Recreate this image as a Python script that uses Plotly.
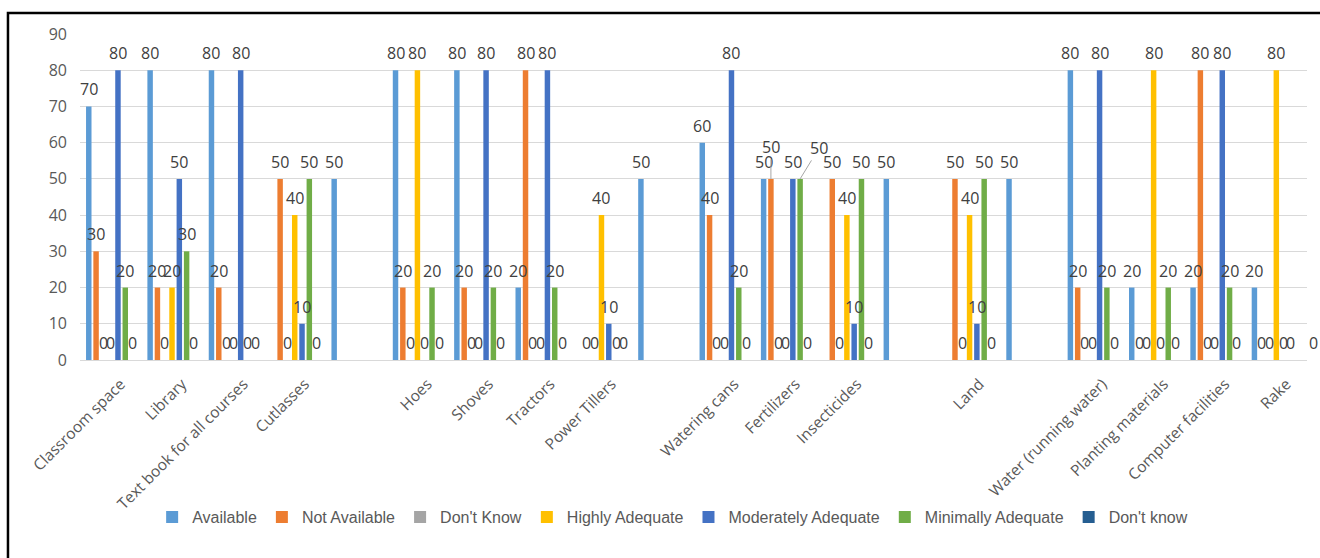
import plotly.graph_objects as go

# Resource categories (blank entries are unlabeled slots on the axis)
categories = [
    "Classroom space", "Library", "Text book for all courses", "Cutlasses", "",
    "Hoes", "Shoves", "Tractors", "Power Tillers", "",
    "Watering cans", "Fertilizers", "Insecticides", "",
    "Land", "",
    "Water (running water)", "Planting materials", "Computer facilities", "Rake",
]

available          = [70, 80, 80, None, 50, 80, 80, 20, None, 50, 60, 50, None, 50, None, 50, 80, 20, 20, 20]
not_available      = [30, 20, 20, 50, None, 20, 20, 80, 0, None, 40, 50, 50, None, 50, None, 20, 0, 80, 0]
dont_know_a        = [0, 0, 0, 0, None, 0, 0, 0, 0, None, 0, 0, 0, None, 0, None, 0, 0, 0, 0]
highly_adequate    = [0, 20, 0, 40, None, 80, 0, 0, 40, None, 0, 0, 40, None, 40, None, 0, 80, 0, 80]
moderately_adequate = [80, 50, 80, 10, None, 0, 80, 80, 10, None, 80, 50, 10, None, 10, None, 80, 0, 80, 0]
minimally_adequate = [20, 30, 0, 50, None, 20, 20, 20, 0, None, 20, 50, 50, None, 50, None, 20, 20, 20, 0]
dont_know_b        = [0, 0, 0, 0, None, 0, 0, 0, 0, None, 0, 0, 0, None, 0, None, 0, 0, 0, 0]

series = [
    ("Available", available, "#5B9BD5"),
    ("Not Available", not_available, "#ED7D31"),
    ("Don't Know", dont_know_a, "#A5A5A5"),
    ("Highly Adequate", highly_adequate, "#FFC000"),
    ("Moderately Adequate", moderately_adequate, "#4472C4"),
    ("Minimally Adequate", minimally_adequate, "#70AD47"),
    ("Don't know", dont_know_b, "#255E91"),
]

# data labels pulled away from their bars: (series index, category index) -> (dx px, dy px, leader line)
moved_labels = {(1, 11): (0, -32, True), (5, 11): (19, -31, True), (6, 19): (15, 0, False)}

BARGAP = 0.167
GROUPGAP = 0.25
LABEL_LIFT = 17  # px from bar top to label centre
LABEL_FONT = dict(family="Open Sans, Segoe UI, sans-serif", size=16, color="#404040")

x_idx = list(range(len(categories)))
fig = go.Figure()
for name, vals, color in series:
    fig.add_trace(go.Bar(
        name=name, x=x_idx, y=vals, marker_color=color, marker_line_width=0,
        hoverinfo="skip",
    ))

# value labels, centred over each bar's slot inside its category group
n = len(series)
slot = (1 - BARGAP) / n
for s, (name, vals, color) in enumerate(series):
    for c, val in enumerate(vals):
        if val is None:
            continue
        xpos = c - (1 - BARGAP) / 2 + (s + 0.5) * slot
        dx, dy, leader = moved_labels.get((s, c), (0, 0, False))
        if leader:
            fig.add_annotation(x=xpos, y=val, text=str(val), showarrow=True, ax=dx, ay=dy,
                               arrowhead=0, arrowwidth=1, arrowcolor="#A6A6A6",
                               font=LABEL_FONT, standoff=0)
        else:
            fig.add_annotation(x=xpos, y=val, text=str(val), showarrow=False,
                               xshift=dx, yshift=LABEL_LIFT, font=LABEL_FONT)

# outer chart frame
fig.add_shape(type="rect", xref="paper", yref="paper",
              x0=-0.0587, x1=1.02, y0=-0.62, y1=1.0644,
              line=dict(color="black", width=2.5), fillcolor="rgba(0,0,0,0)", layer="above")

fig.update_layout(
    width=1320, height=558,
    margin=dict(l=80, r=13, t=34, b=198),
    paper_bgcolor="white", plot_bgcolor="white",
    barmode="group", bargap=BARGAP, bargroupgap=GROUPGAP,
    showlegend=True,
    legend=dict(orientation="h", x=0.483, xanchor="center", y=-0.482, yanchor="middle",
                font=dict(family="Liberation Sans Narrow, Liberation Sans, sans-serif", size=16, color="#595959"),
                itemwidth=30, traceorder="normal"),
    font=dict(family="Open Sans, sans-serif", color="#595959"),
)
fig.update_yaxes(range=[0, 90], dtick=10, showgrid=True, gridcolor="#D9D9D9", gridwidth=1,
                 zeroline=False, showline=False, ticks="", ticklabelstandoff=12,
                 tickfont=dict(family="Open Sans, sans-serif", size=16, color="#595959"))
fig.update_xaxes(range=[-0.5, len(categories) - 0.5], tickmode="array", tickvals=x_idx,
                 ticktext=categories, tickangle=-45, showgrid=False, zeroline=False,
                 showline=True, linecolor="#D9D9D9", ticks="", ticklabelstandoff=8,
                 ticklabelshift=10,
                 tickfont=dict(family="Open Sans, sans-serif", size=15.5, color="#595959"))

fig.write_html("out.html")
